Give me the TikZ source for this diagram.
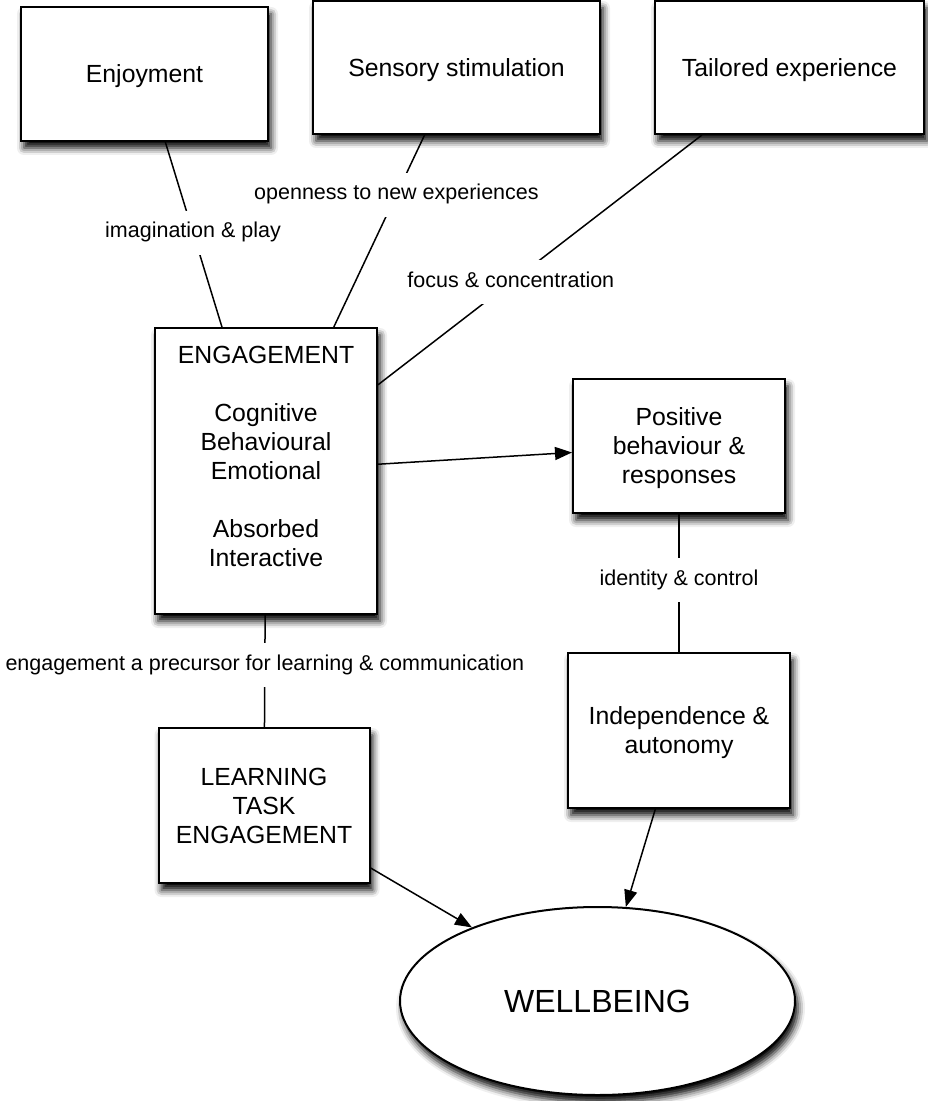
\documentclass[tikz,border=0pt]{standalone}
\usepackage{fontspec}
\setmainfont{Liberation Sans}
\usetikzlibrary{arrows.meta}
\usetikzlibrary{shapes.geometric}
\usetikzlibrary{shadows.blur}

\tikzset{
  box/.style={draw, line width=1pt, fill=white, align=center, text depth=0pt, font=\fontsize{12.4}{14.5}\selectfont,
    blur shadow={shadow xshift=1.5pt, shadow yshift=-3.5pt, shadow blur radius=3.5pt, shadow opacity=100}},
  conn/.style={line width=.75pt},
  arr/.style={conn, -{Triangle[length=8.5pt, width=6.5pt]}},
  lbl/.style={fill=white, font=\fontsize{10.75}{12}\selectfont, text height=.75em, text depth=.25em, inner xsep=3pt, inner ysep=6pt}
}

\begin{document}
\begin{tikzpicture} [x=.5pt, y=-.5pt]
\useasboundingbox (0,0) rectangle (927,1101);

% top row
\node[box, minimum width=123.5pt, minimum height=67pt] (enjoy) at (144.5,74) {Enjoyment};
\node[box, minimum width=143.5pt, minimum height=66.5pt] (sensory) at (456.5,67.5) {Sensory stimulation};
\node[box, minimum width=134.5pt, minimum height=66.5pt] (tailored) at (789.5,67.5) {Tailored experience};

% middle
\node[box, minimum width=111pt, minimum height=143pt] (engage) at (266,471) {ENGAGEMENT\\[14.5pt]Cognitive\\Behavioural\\Emotional\\[14.5pt]Absorbed\\Interactive\\~};
\node[box, minimum width=106pt, minimum height=67pt] (positive) at (679,446) {Positive\\behaviour \&\\responses};
\node[box, minimum width=111pt, minimum height=77.5pt] (indep) at (679,730.5) {Independence \&\\autonomy};
\node[box, minimum width=105.5pt, minimum height=77.5pt] (learn) at (264,805.5) {LEARNING\\TASK\\ENGAGEMENT};

% bottom
\node[box, ellipse, inner sep=0pt, minimum width=197.5pt, minimum height=94pt, font=\fontsize{16}{19}\selectfont] (well) at (597.5,1001) {WELLBEING};

\draw[conn] (enjoy) -- node[lbl, pos=.49] {imagination \& play} (engage);
\draw[conn] (sensory) -- node[lbl, pos=.31] {openness to new experiences} (engage);
\draw[conn] (tailored) -- node[lbl, pos=.59] {focus \& concentration} (engage);
\draw[arr] (engage) -- (positive);
\draw[conn] (positive) -- node[lbl, pos=.48] {identity \& control} (indep);
\draw[conn] (engage) -- node[lbl, pos=.45] {engagement a precursor for learning \& communication} (learn);
\draw[arr] (learn) -- (well);
\draw[arr] (indep) -- (well);

\end{tikzpicture}
\end{document}
